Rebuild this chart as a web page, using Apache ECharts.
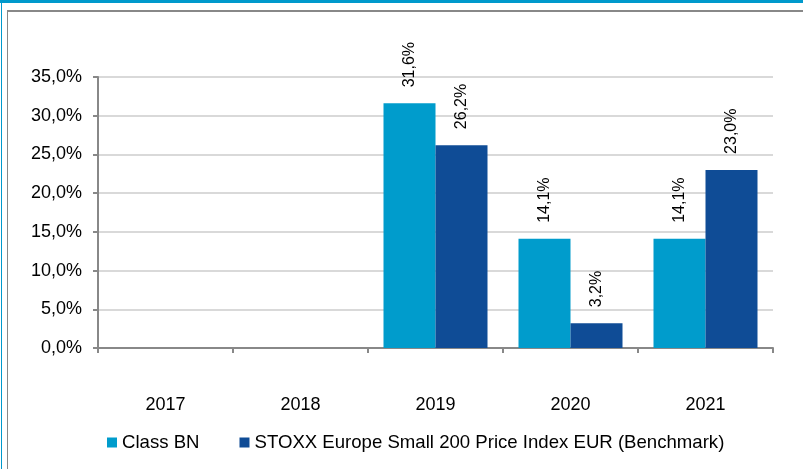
<!DOCTYPE html>
<html>
<head>
<meta charset="utf-8">
<script src="https://cdn.jsdelivr.net/npm/echarts@6/dist/echarts.min.js"></script>
<style>
  html, body { margin: 0; padding: 0; background: #fff; }
  #wrap { position: relative; width: 803px; height: 469px; overflow: hidden; }
  #topbar { position: absolute; left: 0; top: 0; width: 803px; height: 3px; background: #0099cc; }
  #leftbar { position: absolute; left: 1px; top: 3px; width: 1px; height: 466px; background: #0099cc; }
  #frame { position: absolute; left: 7px; top: 10px; width: 800px; height: 470px; border-left: 1px solid #888; border-top: 2px solid #888; }
  #chart { position: absolute; left: 0; top: 0; width: 803px; height: 469px; }
</style>
</head>
<body>
<div id="wrap">
  <div id="topbar"></div>
  <div id="leftbar"></div>
  <div id="frame"></div>
  <div id="chart"></div>
</div>
<script>
  // data
  const years = ["2017", "2018", "2019", "2020", "2021"];
  const classBN = [null, null, 31.6, 14.1, 14.1];
  const benchmark = [null, null, 26.2, 3.2, 23.0];
  const seriesNames = ["Class BN", "STOXX Europe Small 200 Price Index EUR (Benchmark)"];

  const fmt = function (v) {
    return v.toFixed(1).replace(".", ",") + "%";
  };

  const myChart = echarts.init(document.getElementById("chart"));

  const barLabel = {
    show: true,
    position: "top",
    rotate: 90,
    align: "left",
    verticalAlign: "middle",
    distance: 16,
    fontFamily: "Liberation Sans, Arial",
    fontSize: 16,
    color: "#000",
    formatter: function (p) { return fmt(p.value); }
  };

  const option = {
    animation: false,
    grid: { left: 98, right: 30, top: 77, bottom: 121 },
    legend: {
      left: 102,
      top: 428,
      icon: "rect",
      itemWidth: 10,
      itemHeight: 10,
      itemGap: 40,
      textStyle: { fontFamily: "Liberation Sans, Arial", fontSize: 18.6, color: "#000" },
      data: seriesNames
    },
    xAxis: {
      type: "category",
      data: years,
      axisLine: { lineStyle: { color: "#888", width: 2 } },
      axisTick: { show: true, length: 5, lineStyle: { color: "#888", width: 2 } },
      axisLabel: { margin: 48, fontFamily: "Liberation Sans, Arial", fontSize: 18, color: "#000" }
    },
    yAxis: {
      type: "value",
      min: 0,
      max: 35,
      interval: 5,
      axisLine: { show: true, lineStyle: { color: "#888", width: 2 } },
      axisTick: { show: true, length: 5, lineStyle: { color: "#888", width: 2 } },
      splitLine: { lineStyle: { color: "#d9d9d9", width: 2 } },
      axisLabel: {
        margin: 16,
        fontFamily: "Liberation Sans, Arial",
        fontSize: 18,
        color: "#000",
        formatter: fmt
      }
    },
    series: [
      {
        name: seriesNames[0],
        type: "bar",
        barWidth: 52,
        barGap: "0%",
        itemStyle: { color: "#009ccc" },
        label: barLabel,
        data: classBN
      },
      {
        name: seriesNames[1],
        type: "bar",
        barWidth: 52,
        barGap: "0%",
        itemStyle: { color: "#0f4c96" },
        label: barLabel,
        data: benchmark
      }
    ]
  };
  myChart.setOption(option);
</script>
</body>
</html>
